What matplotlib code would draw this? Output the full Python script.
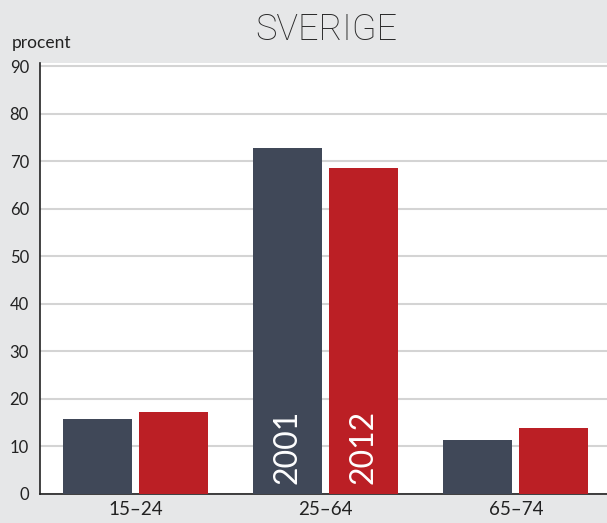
import matplotlib
matplotlib.use("Agg")
import matplotlib.pyplot as plt
import numpy as np

categories = ["15–24", "25–64", "65–74"]
series_names = ["2001", "2012"]
values_2001 = [15.8, 72.8, 11.4]
values_2012 = [17.3, 68.6, 13.9]
yticks = [0, 10, 20, 30, 40, 50, 60, 70, 80, 90]

plt.rcParams['font.family'] = ['Lato', 'DejaVu Sans']

fig = plt.figure(figsize=(6.07, 5.23), dpi=100, facecolor='#e6e7e8')
ax = fig.add_axes([40/607, 1-494/523, 1-40/607, (494-63)/523])
ax.set_facecolor('white')

x = np.arange(len(categories))
w = 0.363
dark = '#404858'
red = '#bb1f25'
ax.bar(x - 0.2, values_2001, w, color=dark, zorder=3)
ax.bar(x + 0.2, values_2012, w, color=red, zorder=3)

ax.set_xlim(-0.503, 2.48)
ax.set_ylim(0, 90.7)
ax.set_yticks(yticks)
ax.set_yticklabels([str(t) for t in yticks], fontsize=12, color='#222222')
ax.set_xticks(x)
ax.set_xticklabels(categories, fontsize=13.5, color='#222222')
ax.tick_params(axis='both', length=0, pad=5)
ax.tick_params(axis='y', pad=8)
ax.yaxis.grid(True, color='#d4d4d4', linewidth=1.5, zorder=0)
ax.set_axisbelow(True)
for s in ['top', 'right']:
    ax.spines[s].set_visible(False)
ax.spines['left'].set_color('#222222')
ax.spines['bottom'].set_color('#222222')
ax.spines['left'].set_linewidth(1.2)
ax.spines['bottom'].set_linewidth(1.2)

ax.text(1 - 0.2, 2.2, series_names[0], rotation=90, color='white', fontsize=23,
        ha='center', va='bottom', zorder=4)
ax.text(1 + 0.2, 2.2, series_names[1], rotation=90, color='white', fontsize=23,
        ha='center', va='bottom', zorder=4)

fig.text(326/607, 1-30/523, "SVERIGE", ha='center', va='center', fontsize=26,
         family=['Roboto', 'DejaVu Sans'], fontweight='light', color='#2a2a2a')
fig.text(12/607, 1-43/523, "procent", ha='left', va='center', fontsize=12.5, color='#222222')

fig.savefig("out.png", dpi=100, facecolor=fig.get_facecolor())
